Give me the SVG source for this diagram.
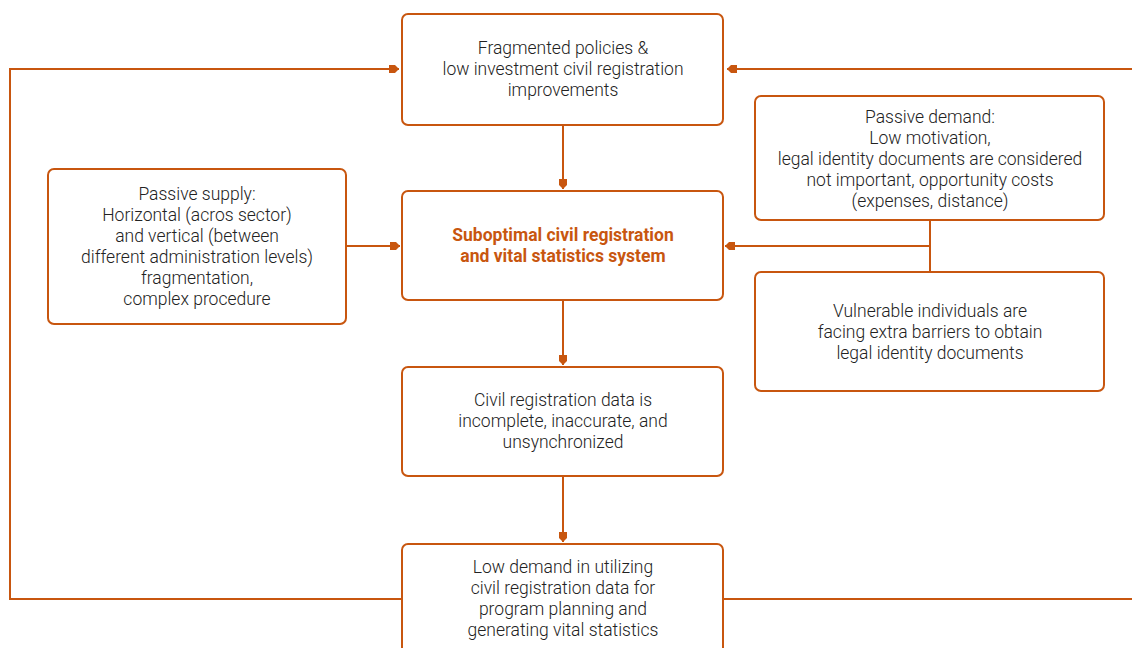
<svg xmlns="http://www.w3.org/2000/svg" width="1132" height="648" viewBox="0 0 1132 648">
<defs>
<style>
.box{fill:#fff;stroke:#C8560F;stroke-width:2}
.t{font-family:Roboto,"Liberation Sans",sans-serif;font-weight:300;font-size:17.5px;fill:#222;text-anchor:middle}
.b{font-family:Roboto,"Liberation Sans",sans-serif;font-weight:700;font-size:17.5px;fill:#C8560F;text-anchor:middle}
.c{fill:none;stroke:#C8560F;stroke-width:2}
</style>
<marker id="ah" markerUnits="userSpaceOnUse" markerWidth="12" markerHeight="10" viewBox="0 -5 12 10" refX="11" refY="0" orient="auto">
<path d="M1,-4 L7,-4 L11,0 L7,4 L1,4 Z" fill="#C8560F"/>
</marker>
</defs>
<rect width="1132" height="648" fill="#fff"/>
<g id="connectors">
<path class="c" d="M402,599 H10 V69 H399" marker-end="url(#ah)"/>
<path class="c" d="M723,599 H1134"/>
<path class="c" d="M1134,69 H727" marker-end="url(#ah)"/>
<path class="c" d="M563,125 V189" marker-end="url(#ah)"/>
<path class="c" d="M563,300 V365" marker-end="url(#ah)"/>
<path class="c" d="M563,476 V542" marker-end="url(#ah)"/>
<path class="c" d="M346,246 H400" marker-end="url(#ah)"/>
<path class="c" d="M930,220 V272"/>
<path class="c" d="M930,246 H725" marker-end="url(#ah)"/>
</g>
<g id="n-fragmented">
<rect class="box" x="402" y="14" width="321" height="111" rx="6"/>
<text class="t" x="563" y="54">Fragmented policies &amp;</text>
<text class="t" x="563" y="75">low investment civil registration</text>
<text class="t" x="563" y="96">improvements</text>
</g>
<g id="n-suboptimal">
<rect class="box" x="402" y="191" width="321" height="109" rx="6"/>
<text class="b" x="563" y="241">Suboptimal civil registration</text>
<text class="b" x="563" y="262">and vital statistics system</text>
</g>
<g id="n-data">
<rect class="box" x="402" y="367" width="321" height="109" rx="6"/>
<text class="t" x="563" y="406">Civil registration data is</text>
<text class="t" x="563" y="427">incomplete, inaccurate, and</text>
<text class="t" x="563" y="448">unsynchronized</text>
</g>
<g id="n-lowdemand">
<rect class="box" x="402" y="544" width="321" height="120" rx="6"/>
<text class="t" x="563" y="573">Low demand in utilizing</text>
<text class="t" x="563" y="594">civil registration data for</text>
<text class="t" x="563" y="615">program planning and</text>
<text class="t" x="563" y="636">generating vital statistics</text>
</g>
<g id="n-supply">
<rect class="box" x="48" y="169" width="298" height="155" rx="6"/>
<text class="t" x="197" y="200">Passive supply:</text>
<text class="t" x="197" y="221">Horizontal (acros sector)</text>
<text class="t" x="197" y="242">and vertical (between</text>
<text class="t" x="197" y="263">different administration levels)</text>
<text class="t" x="197" y="284">fragmentation,</text>
<text class="t" x="197" y="305">complex procedure</text>
</g>
<g id="n-demand">
<rect class="box" x="755" y="96" width="349" height="124" rx="6"/>
<text class="t" x="930" y="123">Passive demand:</text>
<text class="t" x="930" y="144">Low motivation,</text>
<text class="t" x="930" y="165">legal identity documents are considered</text>
<text class="t" x="930" y="186">not important, opportunity costs</text>
<text class="t" x="930" y="207">(expenses, distance)</text>
</g>
<g id="n-vulnerable">
<rect class="box" x="755" y="272" width="349" height="119" rx="6"/>
<text class="t" x="930" y="317">Vulnerable individuals are</text>
<text class="t" x="930" y="338">facing extra barriers to obtain</text>
<text class="t" x="930" y="359">legal identity documents</text>
</g>
</svg>
